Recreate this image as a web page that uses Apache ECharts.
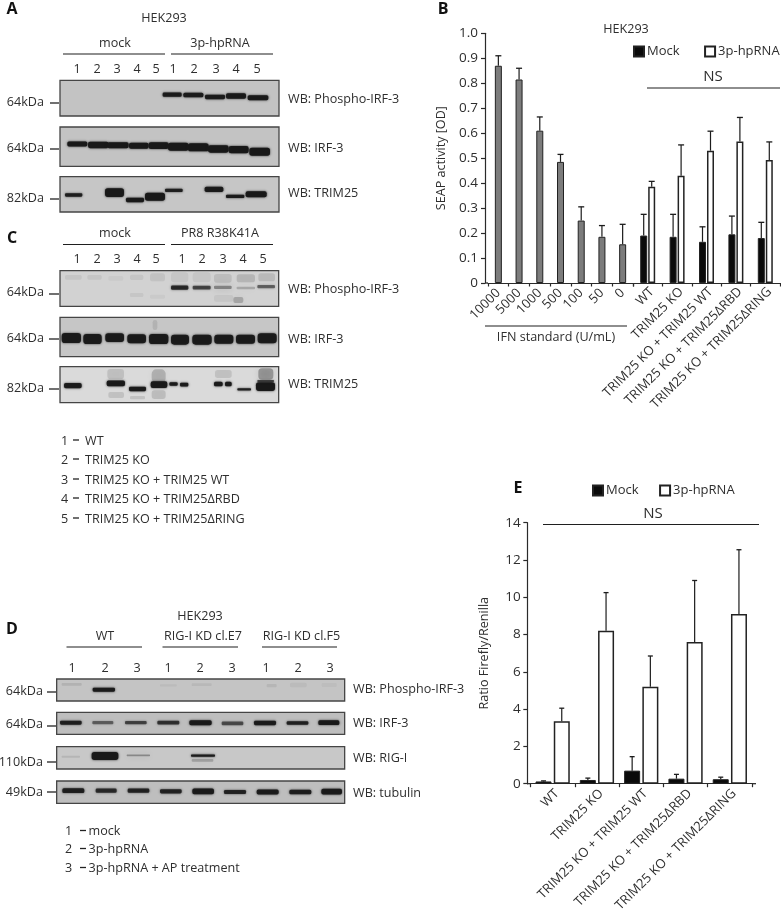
<!DOCTYPE html>
<html><head><meta charset="utf-8">
<style>html,body{margin:0;padding:0;background:#fff}#c{width:781px;height:911px}</style>
<script src="https://cdn.jsdelivr.net/npm/echarts@6/dist/echarts.min.js"></script>
</head><body><div id="c"></div>
<script>
// ---------- panel B ----------
const ifnDoses=['10000','5000','1000','500','100','50','0'];
const ifnValues=[0.87,0.815,0.61,0.485,0.25,0.185,0.155];
const ifnErrTop=[0.91,0.86,0.665,0.515,0.305,0.23,0.235];
const cellLines=['WT','TRIM25 KO','TRIM25 KO + TRIM25 WT','TRIM25 KO + TRIM25\u0394RBD','TRIM25 KO + TRIM25\u0394RING'];
const seapMock=[0.19,0.185,0.165,0.195,0.18];
const seapMockErrTop=[0.275,0.275,0.225,0.268,0.243];
const seap3p=[0.385,0.43,0.53,0.567,0.493];
const seap3pErrTop=[0.407,0.553,0.608,0.663,0.565];
const seapTicks={min:0,max:1,interval:0.1};
// ---------- panel E ----------
const ratioMock=[0.12,0.2,0.7,0.27,0.24];
const ratioMockErrTop=[0.15,0.3,1.45,0.5,0.35];
const ratio3p=[3.35,8.2,5.2,7.6,9.1];
const ratio3pErrTop=[4.05,10.25,6.85,10.9,12.55];
const ratioTicks={min:0,max:14,interval:2};
// ---------- blots: [laneStart, laneEnd, gelLevel, thickness, signal] in scan units ----------
const blotA1=[[488,545,284,13,.95],[550,610,285,14,.95],[615,675,291,13,.95],[678,738,288,16,.95],[743,805,293,15,.95]];
const blotA2=[[202,262,432,15,.97],[264,326,435,19,.97],[322,386,436,18,.97],[387,446,437,18,.97],[446,506,437,20,.97],[504,566,440,24,.97],[564,626,442,24,.97],[624,686,447,22,.97],[686,746,449,22,.97],[748,810,455,24,.97]];
const blotA3=[[195,247,585,10,.9],[315,372,578,26,.97],[378,432,600,13,.97],[435,495,590,24,.97],[495,548,571,10,.9],[614,670,568,16,.95],[678,733,589,10,.95],[737,800,583,18,.97]];
const blotC1=[[195,245,172,14,.07],[262,305,172,14,.07],[325,370,175,14,.04],[390,430,172,16,.07],[450,495,172,24,.08],[390,430,225,12,.06],[450,495,230,12,.04],
 [513,565,172,30,.06],[578,632,172,30,.06],[642,695,175,26,.1],[710,765,175,24,.14],[775,825,172,24,.12],
 [513,565,203,13,.82],[578,632,203,11,.66],[642,695,202,10,.4],[710,765,204,7,.22],[772,825,200,10,.52],[700,730,240,18,.22],[642,700,235,20,.06]];
const blotC2=[[185,243,354,30,.95],[250,305,357,30,.95],[316,372,353,26,.95],[382,438,356,27,.95],[447,505,357,30,.95],[513,567,359,30,.95],[577,635,359,30,.95],[643,700,358,27,.95],[708,765,358,27,.95],[773,830,355,30,.95],[458,472,315,30,.1]];
const blotC3=[[322,372,462,30,.13],[325,372,525,18,.12],[390,435,533,10,.12],[455,497,468,40,.2],[455,497,524,26,.14],[645,695,462,24,.12],[775,820,462,34,.32],[192,245,497,16,.93],[320,375,490,17,.96],[387,438,507,13,.95],[452,502,494,20,.96],[508,533,492,11,.95],[540,565,494,11,.95],[642,668,492,14,.95],[675,695,492,14,.95],[712,753,508,7,.9],[768,825,500,26,.97],[772,822,483,6,.7]];
const blotD1=[[185,245,253,8,.1],[278,345,269,12,.95],[480,530,256,7,.05],[575,635,254,8,.07],[800,830,257,10,.08],[870,920,255,14,.05],[965,1010,255,12,.04]];
const blotD2=[[180,245,368,12,.88],[277,340,368,10,.5],[375,440,368,10,.65],[472,538,368,11,.75],[568,635,368,15,.95],[665,730,370,11,.6],[762,828,369,13,.92],[860,925,369,11,.88],[955,1018,368,14,.95]];
const blotD3=[[185,240,470,6,.1],[275,355,468,24,.97],[380,450,466,5,.35],[573,645,467,7,.93],[575,640,481,8,.22]];
const blotD4=[[187,253,572,14,.9],[287,350,572,13,.8],[383,448,572,13,.85],[480,545,574,13,.85],[577,642,574,17,.95],[672,738,576,12,.85],[770,836,576,15,.92],[868,934,576,14,.9],[964,1026,575,17,.95]];
// scan frames
const blotFrames=[
 {d:blotA1,f:[180,837,241,348],oy:0,bg:'#c3c3c3'},
 {d:blotA2,f:[180,837,381,499],oy:0,bg:'#c3c3c3'},
 {d:blotA3,f:[180,837,530,636],oy:0,bg:'#c6c6c6'},
 {d:blotC1,f:[180,836,152,259],oy:220,bg:'#d2d2d2'},
 {d:blotC2,f:[180,836,292,410],oy:220,bg:'#c6c6c6'},
 {d:blotC3,f:[180,836,440,548],oy:220,bg:'#dadada'},
 {d:blotD1,f:[170,1034,237,303],oy:600,bg:'#c4c4c4'},
 {d:blotD2,f:[170,1034,337,403],oy:600,bg:'#bebebe'},
 {d:blotD3,f:[170,1034,440,507],oy:600,bg:'#c8c8c8'},
 {d:blotD4,f:[170,1034,543,610],oy:600,bg:'#bebebe'}
];
// ---------- text ----------
const FONT='"Open Sans"', INK='#2e2e2e';
const blotLaneNumbersA=[[77,'1'],[97,'2'],[117,'3'],[137,'4'],[156,'5'],[173,'1'],[194,'2'],[216,'3'],[236,'4'],[257,'5']];
const blotLaneNumbersC=[[77,'1'],[97,'2'],[117,'3'],[137,'4'],[156,'5'],[182,'1'],[202,'2'],[223,'3'],[243,'4'],[263,'5']];
const blotLaneNumbersD=[[72,'1'],[105,'2'],[137,'3'],[168,'1'],[200,'2'],[232,'3'],[266,'1'],[298,'2'],[330,'3']];
const panelLetters=[['A',12,9],['B',443,9],['C',12,238],['D',12,629],['E',518,488]];
const centeredText=[['HEK293',164,18],['mock',115,43],['3p-hpRNA',220,43],['mock',115,233],['PR8 R38K41A',220,233],
 ['HEK293',200,616],['WT',105,636],['RIG-I KD cl.E7',203,636],['RIG-I KD cl.F5',301.5,636],
 ['HEK293',626,29],['IFN standard (U/mL)',556,337]];
const nsText=[['NS',713,77],['NS',653,514]];
const kdaLabels=[['64kDa',44,102],['64kDa',44,148],['82kDa',44,198],['64kDa',44,292],['64kDa',44,338],['82kDa',44,388],
 ['64kDa',43,691],['64kDa',43,724],['110kDa',43,762],['49kDa',43,792]];
const kdaTicks=[[50,59,103],[50,59,149],[50,59,199],[49,59,294],[49,59,339],[49,59,389],[47,56,692],[47,56,726],[47,56,762],[47,56,792]];
const wbLabels=[['WB: Phospho-IRF-3',288,99],['WB: IRF-3',288,148],['WB: TRIM25',288,193],
 ['WB: Phospho-IRF-3',288,289],['WB: IRF-3',288,339],['WB: TRIM25',288,384],
 ['WB: Phospho-IRF-3',353,689],['WB: IRF-3',353,723],['WB: RIG-I',353,758],['WB: tubulin',353,793]];
const ruleLines=[[63,165,54],[171,273,54],[63,165,244.5],[171,273,244.5],[66.5,142,647],[162.5,238,647],[262,337,647],
 [647,780,88],[485,627,326],[543,759,524.5],[485,488,283],[527,530.5,783.7],[752,756,783.7]];
const keyC=[['1','WT',441],['2','TRIM25 KO',460],['3','TRIM25 KO + TRIM25 WT',480],['4','TRIM25 KO + TRIM25\u0394RBD',499],['5','TRIM25 KO + TRIM25\u0394RING',519]];
const keyD=[['1','mock',831],['2','3p-hpRNA',849],['3','3p-hpRNA + AP treatment',868]];

// ---------- builders ----------
const TXT=12.6;
const txt=(t,x,y,o={})=>({type:'text',x,y,silent:true,style:{text:t,fill:o.fill||INK,font:(o.w||'normal')+' '+(o.s||TXT)+'px '+FONT,align:o.a||'left',verticalAlign:'middle'}});
const line=(a,b,y,w=1.2,c='#222')=>({type:'line',silent:true,shape:{x1:a,y1:y,x2:b,y2:y},style:{stroke:c,lineWidth:w}});
const graphics=[];
panelLetters.forEach(p=>graphics.push(txt(p[0],p[1],p[2],{s:16,w:'bold',a:'center',fill:'#111'})));
centeredText.forEach(p=>graphics.push(txt(p[0],p[1],p[2],{a:'center'})));
nsText.forEach(p=>graphics.push(txt(p[0],p[1],p[2],{a:'center',s:15})));
kdaLabels.forEach(p=>graphics.push(txt(p[0],p[1],p[2],{a:'right'})));
wbLabels.forEach(p=>graphics.push(txt(p[0],p[1],p[2])));
[[blotLaneNumbersA,69],[blotLaneNumbersC,259],[blotLaneNumbersD,668]].forEach(([arr,y])=>arr.forEach(p=>graphics.push(txt(p[1],p[0],y,{a:'center'}))));
kdaTicks.forEach(p=>graphics.push(line(p[0],p[1],p[2],1.3)));
ruleLines.forEach(p=>graphics.push(line(p[0],p[1],p[2],1.2,'#1f1f1f')));
keyC.forEach(r=>{graphics.push(txt(r[0],61,r[2]),line(73,79,r[2]-1,1.3),txt(r[1],85,r[2]));});
keyD.forEach(r=>{graphics.push(txt(r[0],65,r[2]),line(80,86,r[2]-0.5,1.3),txt(r[1],88.5,r[2]));});

const grids=[],xAxes=[],yAxes=[],series=[];
function addGrid(box,x,y){const i=grids.length;grids.push(Object.assign({containLabel:false,outerBoundsMode:'none'},box));xAxes.push(Object.assign({gridIndex:i},x));yAxes.push(Object.assign({gridIndex:i},y));return i;}

// blots
const bandRender=(p,api)=>{
 const a=api.coord([api.value(0),api.value(2)]),b=api.coord([api.value(1),api.value(2)]);
 const t=api.size([0,api.value(3)])[1], s=api.value(4), faint=s<0.45;
 const col='rgba(24,24,24,'+s+')';
 return {type:'rect',z2:faint?1:2,shape:{x:a[0],y:a[1]-t/2,width:b[0]-a[0],height:t,r:t/3},style:{fill:col,shadowBlur:faint?7:2.2,shadowColor:col}};
};
blotFrames.forEach(b=>{
 const [l,r,t,bt]=b.f;
 const i=addGrid({left:l/3,top:b.oy+t/3,width:(r-l)/3,height:(bt-t)/3,show:true,backgroundColor:b.bg,borderColor:'#454545',borderWidth:1.3},
  {type:'value',min:l,max:r,show:false,splitLine:{show:false}},
  {type:'value',min:t,max:bt,inverse:true,show:false,splitLine:{show:false}});
 series.push({type:'custom',xAxisIndex:i,yAxisIndex:i,clip:true,silent:true,data:b.d,encode:{x:[0,1],y:2},renderItem:bandRender});
});

// charts
const axisLine={show:true,lineStyle:{color:'#2a2a2a',width:1.2}};
const catAxis=(data,m,pad)=>({type:'category',data,axisLine,axisTick:{show:true,length:3.5,interval:0,lineStyle:{color:'#2a2a2a',width:1.2}},
 axisLabel:{interval:0,rotate:45,fontFamily:FONT,fontSize:13,color:INK,margin:m,padding:[0,pad,0,0]}});
const valAxis=(t,name,gap,offset,margin,fmt)=>Object.assign({type:'value'},t,{offset,name,nameLocation:'middle',nameGap:gap,nameTextStyle:{fontFamily:FONT,fontSize:12.6,color:INK},
 splitLine:{show:false},axisLine,axisTick:{show:true,length:4,lineStyle:{color:'#2a2a2a',width:1.2}},axisLabel:{fontFamily:FONT,fontSize:13.5,color:INK,margin,formatter:fmt}});
const hiddenVal=t=>Object.assign({type:'value',show:false,splitLine:{show:false}},t);
const errorSeries=(name,i,vals,tops,shift,cap)=>({type:'custom',name,xAxisIndex:i,yAxisIndex:i,silent:true,clip:false,z:5,
 data:vals.map((v,k)=>[k,v,tops[k]]),encode:{x:0,y:[1,2]},
 renderItem:(p,api)=>{const a=api.coord([api.value(0),api.value(1)]),b=api.coord([api.value(0),api.value(2)]);const x=a[0]+shift;
  return {type:'group',children:[
   {type:'line',shape:{x1:x,y1:a[1],x2:x,y2:b[1]},style:{stroke:'#1c1c1c',lineWidth:1.2}},
   {type:'line',shape:{x1:x-cap/2,y1:b[1],x2:x+cap/2,y2:b[1]},style:{stroke:'#1c1c1c',lineWidth:1.3}}]};}});
const barStyleMock={color:'#0a0a0a',borderColor:'#222',borderWidth:1};
const barStyle3p={color:'#fff',borderColor:'#222',borderWidth:1.5};

// panel B: IFN standard
const b1=addGrid({left:488,top:33.3,width:145,height:249.7},catAxis(ifnDoses,8,0),
 valAxis(seapTicks,'SEAP activity [OD]',37,3,7,v=>v===0?'0':v.toFixed(1)));
series.push({type:'bar',name:'IFN',xAxisIndex:b1,yAxisIndex:b1,barWidth:7,data:ifnValues,silent:true,itemStyle:{color:'#7c7c7c',borderColor:'#222',borderWidth:1}},
 errorSeries('IFN err',b1,ifnValues,ifnErrTop,0,6));
// panel B: cell lines
const b2=addGrid({left:633,top:33.3,width:147,height:249.7},catAxis(cellLines,11,-6),hiddenVal(seapTicks));
series.push({type:'bar',name:'Mock',xAxisIndex:b2,yAxisIndex:b2,barWidth:7,barGap:'14%',data:seapMock,silent:true,itemStyle:barStyleMock},
 {type:'bar',name:'3p-hpRNA',xAxisIndex:b2,yAxisIndex:b2,barWidth:7,barGap:'14%',data:seap3p,silent:true,itemStyle:barStyle3p},
 errorSeries('Mock err',b2,seapMock,seapMockErrTop,-4,6),errorSeries('3p err',b2,seap3p,seap3pErrTop,4,6));
// panel E
const e=addGrid({left:530.5,top:522.7,width:221.5,height:261},catAxis(cellLines,12,-6),
 valAxis(ratioTicks,'Ratio Firefly/Renilla',36,3.2,6.5,v=>String(v)));
series.push({type:'bar',name:'Mock',xAxisIndex:e,yAxisIndex:e,barWidth:16,barGap:'14%',data:ratioMock,silent:true,itemStyle:barStyleMock},
 {type:'bar',name:'3p-hpRNA',xAxisIndex:e,yAxisIndex:e,barWidth:16,barGap:'14%',data:ratio3p,silent:true,itemStyle:barStyle3p},
 errorSeries('Mock err E',e,ratioMock,ratioMockErrTop,-9.1,5),errorSeries('3p err E',e,ratio3p,ratio3pErrTop,9.1,5));

const legend=(left,top,gap)=>({show:true,left,top,orient:'horizontal',icon:'rect',itemWidth:10,itemHeight:10,itemGap:gap,padding:0,selectedMode:false,
 data:['Mock','3p-hpRNA'],textStyle:{fontFamily:FONT,fontSize:13,color:INK,padding:[0,0,0,-2]}});

const chart=echarts.init(document.getElementById('c'),null,{renderer:'canvas',width:781,height:911});
chart.setOption({animation:false,textStyle:{fontFamily:FONT},legend:[legend(633,45,24.5),legend(592,484,20.5)],tooltip:{show:false},
 grid:grids,xAxis:xAxes,yAxis:yAxes,series,graphic:graphics});
</script></body></html>
